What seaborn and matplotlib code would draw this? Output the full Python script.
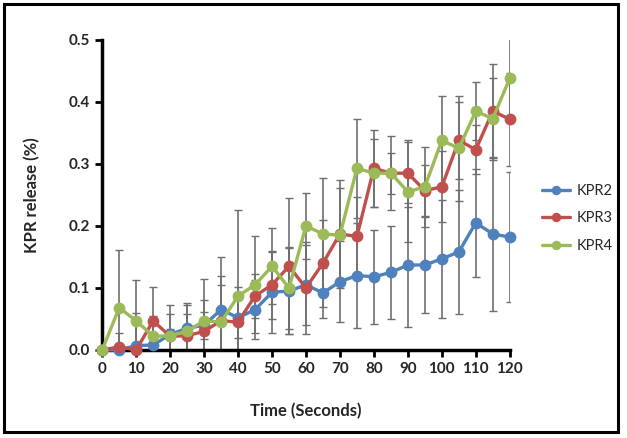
import numpy as np
import pandas as pd
import seaborn as sns
import matplotlib
matplotlib.use("Agg")
import matplotlib.pyplot as plt
from matplotlib.patches import Rectangle

time_s = [0, 5, 10, 15, 20, 25, 30, 35, 40, 45, 50, 55, 60,
          65, 70, 75, 80, 85, 90, 95, 100, 105, 110, 115, 120]

kpr2 = [0.0, 0.0, 0.007, 0.008, 0.025, 0.035, 0.04, 0.065, 0.052, 0.065, 0.093, 0.095, 0.105,
        0.092, 0.11, 0.12, 0.118, 0.125, 0.137, 0.137, 0.147, 0.158, 0.205, 0.187, 0.182]
kpr2_err = [0.0, 0.005, 0.005, 0.01, 0.008, 0.04, 0.022, 0.085, 0.032, 0.047, 0.065, 0.07, 0.065,
            0.04, 0.065, 0.085, 0.076, 0.075, 0.1, 0.077, 0.095, 0.1, 0.087, 0.124, 0.105]

kpr3 = [0.0, 0.005, 0.0, 0.047, 0.022, 0.023, 0.03, 0.047, 0.045, 0.087, 0.105, 0.135, 0.1,
        0.14, 0.187, 0.183, 0.293, 0.285, 0.285, 0.257, 0.263, 0.338, 0.323, 0.385, 0.372]
kpr3_err = [0.0, 0.023, 0.06, 0.055, 0.036, 0.035, 0.05, 0.058, 0.057, 0.035, 0.055, 0.11, 0.074,
            0.07, 0.087, 0.064, 0.062, 0.06, 0.054, 0.041, 0.057, 0.062, 0.04, 0.076, 0.075]

kpr4 = [0.0, 0.068, 0.047, 0.022, 0.023, 0.03, 0.047, 0.045, 0.087, 0.105, 0.135, 0.1, 0.2,
        0.187, 0.185, 0.293, 0.285, 0.285, 0.255, 0.263, 0.338, 0.325, 0.385, 0.373, 0.438]
kpr4_err = [0.0, 0.093, 0.066, 0.033, 0.05, 0.043, 0.067, 0.075, 0.139, 0.078, 0.061, 0.066, 0.053,
            0.09, 0.076, 0.08, 0.055, 0.033, 0.081, 0.064, 0.072, 0.085, 0.047, 0.066, 0.07]

series = {"KPR2": (kpr2, kpr2_err), "KPR3": (kpr3, kpr3_err), "KPR4": (kpr4, kpr4_err)}
palette = {"KPR2": "#4F81BD", "KPR3": "#C0504D", "KPR4": "#9BBB59"}

rows = []
for name, (vals, errs) in series.items():
    for t, v, e in zip(time_s, vals, errs):
        rows.append({"time": t, "release": v, "err": e, "series": name})
df = pd.DataFrame(rows)

sns.set_style("white")
plt.rcParams["font.family"] = ["Lato", "DejaVu Sans"]

fig = plt.figure(figsize=(6.27, 4.38), dpi=100)
ax = fig.add_axes([0.163, 0.201, 0.650, 0.708])

# error bars first, drawn behind the lines
for name in series:
    d = df[df.series == name]
    ax.errorbar(d["time"], d["release"], yerr=d["err"], fmt="none",
                ecolor="#6f6f6f", elinewidth=1.2, capsize=3, capthick=1.0,
                zorder=1, clip_on=True)

sns.lineplot(data=df, x="time", y="release", hue="series", palette=palette,
             marker="o", markersize=8.5, markeredgewidth=0, linewidth=2.4,
             ax=ax, zorder=3, clip_on=False)

ax.set_xlim(0, 120)
ax.set_ylim(0, 0.5)
ax.set_xticks(range(0, 121, 10))
ax.set_yticks([0.0, 0.1, 0.2, 0.3, 0.4, 0.5])
ax.set_yticklabels(["0.0", "0.1", "0.2", "0.3", "0.4", "0.5"])

for side in ["top", "right"]:
    ax.spines[side].set_visible(False)
for side in ["left", "bottom"]:
    ax.spines[side].set_linewidth(2.5)
    ax.spines[side].set_color("black")

ax.tick_params(axis="both", which="major", direction="out", length=5, width=2,
               color="black", labelsize=11, pad=4, left=True, bottom=True)
for lab in ax.get_xticklabels() + ax.get_yticklabels():
    lab.set_fontweight("bold")

ax.set_xlabel("Time (Seconds)", fontsize=12, fontweight="bold", labelpad=19)
ax.set_ylabel("KPR release (%)", fontsize=12, fontweight="bold", labelpad=20)

leg = ax.legend(loc="center left", bbox_to_anchor=(1.08, 0.424), frameon=False,
                fontsize=10.5, handlelength=1.9, handletextpad=0.45,
                labelspacing=0.95, borderpad=0, borderaxespad=0, markerscale=0.8)
leg.set_title("")

fig.patches.append(Rectangle((0.006, 0.014), 0.98, 0.977, transform=fig.transFigure,
                             fill=False, edgecolor="black", linewidth=2.2))

plt.savefig("out.png", dpi=100)
